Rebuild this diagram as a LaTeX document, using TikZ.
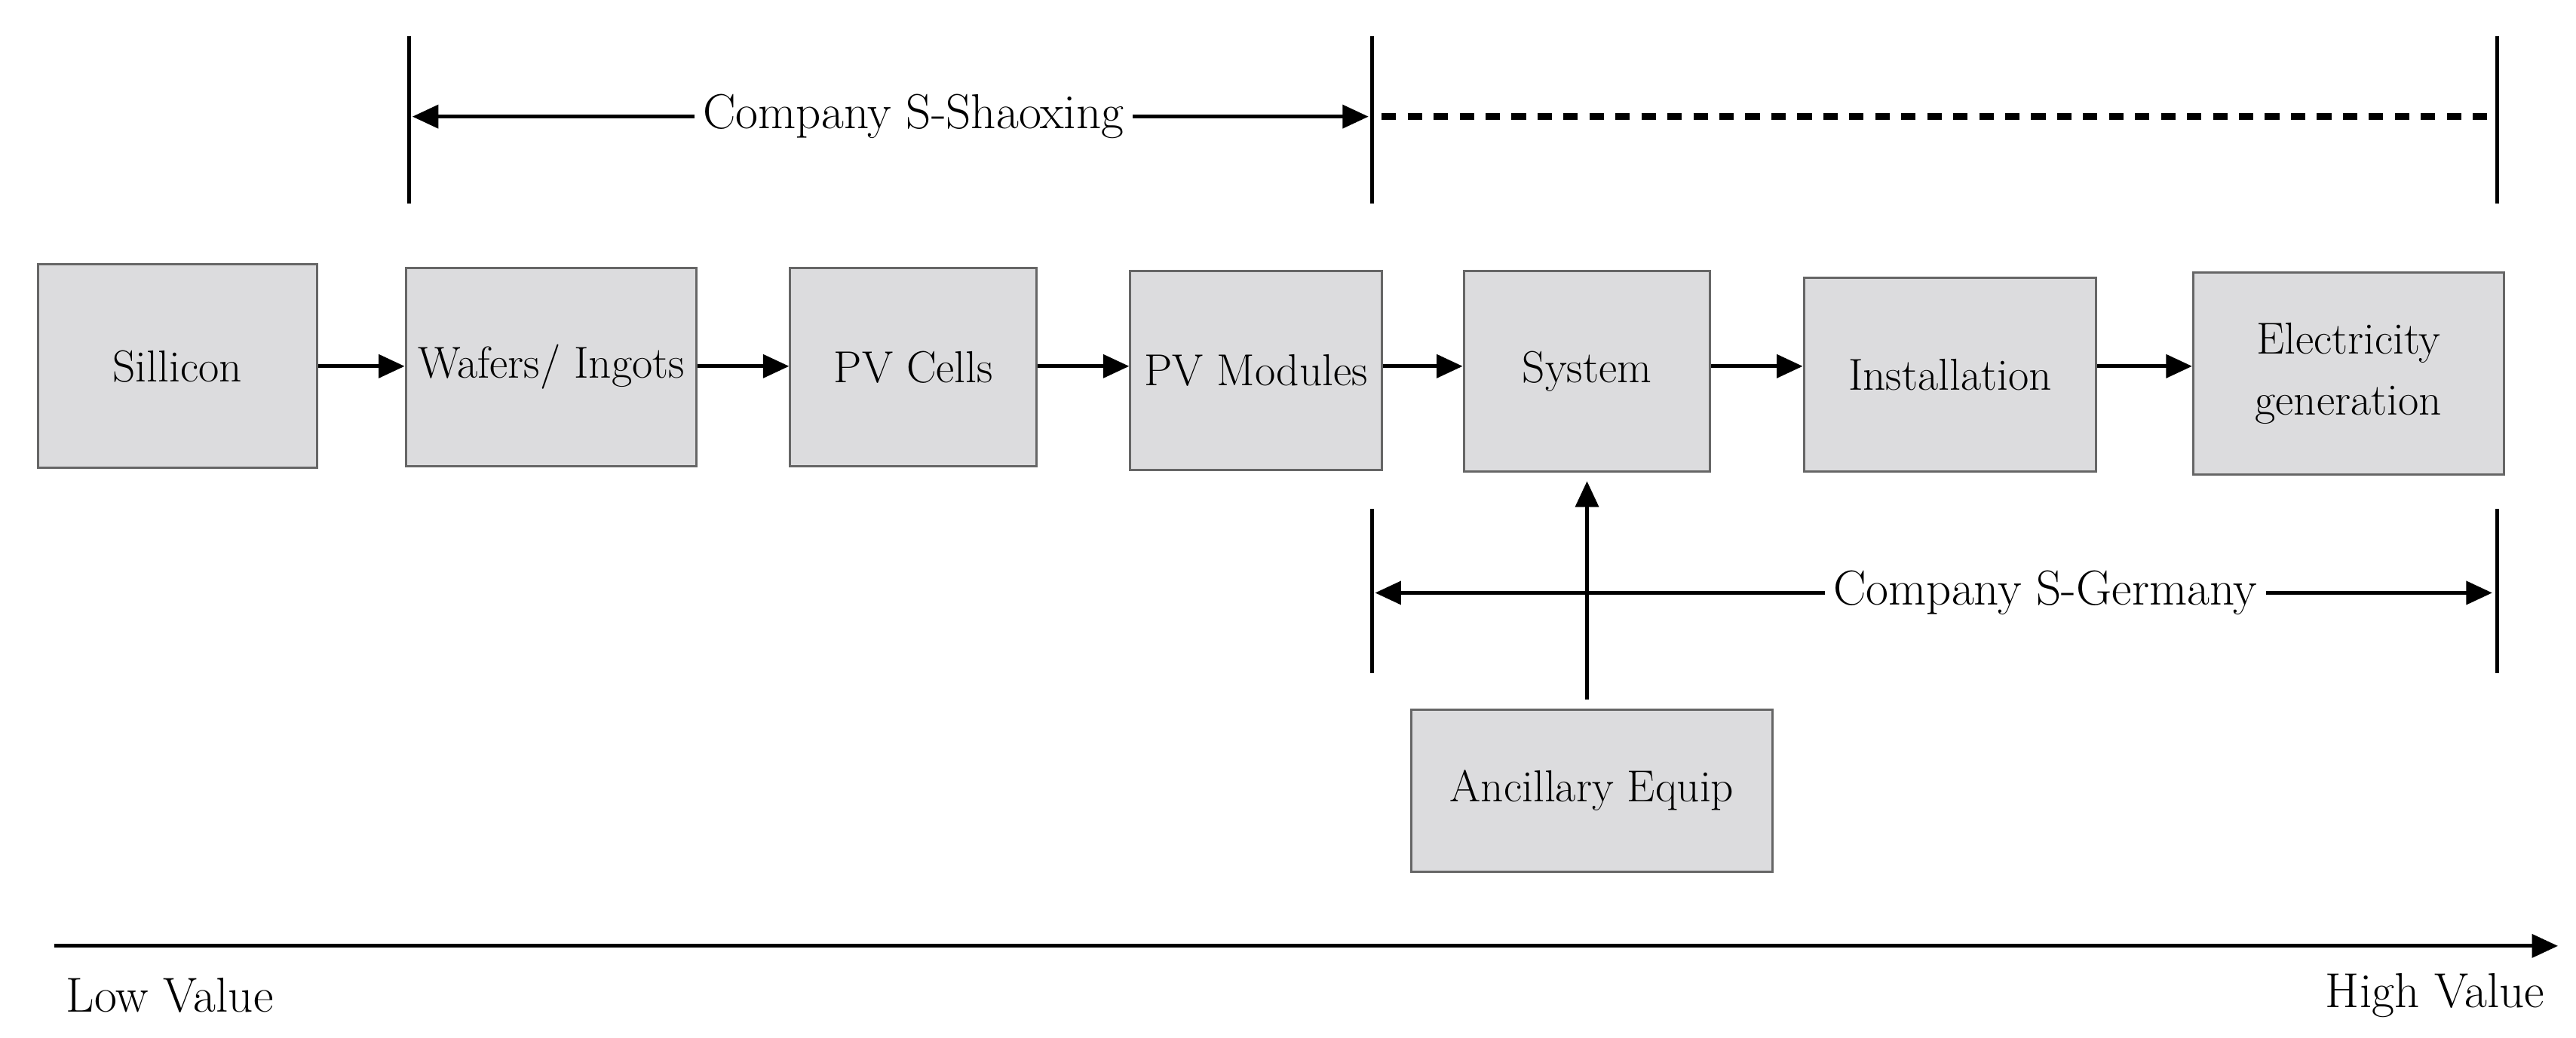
\documentclass[tikz,border=0pt]{standalone}
\usetikzlibrary{arrows.meta}
\begin{document}
\begin{tikzpicture}[x=0.02cm,y=-0.02cm,
  box/.style={draw=gray!80!black,line width=0.8pt,fill=boxfill,inner sep=0pt,font=\fontsize{15.5}{21}\selectfont,align=center},
  arr/.style={-{Triangle[length=9pt,width=8pt]},line width=1.3pt},
  bar/.style={line width=1.3pt},
  lbl/.style={font=\fontsize{17}{20}\selectfont,fill=white,inner sep=3pt}]
\definecolor{boxfill}{HTML}{DCDCDE}
\useasboundingbox (0,0) rectangle (1568,632);
\node[box,minimum width=3.40cm,minimum height=2.48cm] (si) at (108,223) {Sillicon};
\node[box,minimum width=3.54cm,minimum height=2.42cm] (wa) at (335.5,223.5) {Wafers/ Ingots};
\node[box,minimum width=3.00cm,minimum height=2.42cm] (ce) at (556,223.5) {PV Cells};
\node[box,minimum width=3.06cm,minimum height=2.42cm] (mo) at (764.5,225.5) {PV Modules};
\node[box,minimum width=3.00cm,minimum height=2.44cm] (sy) at (966,226) {System};
\node[box,minimum width=3.56cm,minimum height=2.36cm] (in) at (1187,228) {Installation};
\node[box,minimum width=3.78cm,minimum height=2.46cm] (el) at (1429.5,227.5) {Electricity\\generation};
\node[box,minimum width=4.40cm,minimum height=1.98cm] (an) at (969,481.5) {Ancillary Equip};
\draw[arr] (si.east|-0,223) -- (wa.west|-0,223);
\draw[arr] (wa.east|-0,223) -- (ce.west|-0,223);
\draw[arr] (ce.east|-0,223) -- (mo.west|-0,223);
\draw[arr] (mo.east|-0,223) -- (sy.west|-0,223);
\draw[arr] (sy.east|-0,223) -- (in.west|-0,223);
\draw[arr] (in.east|-0,223) -- (el.west|-0,223);
% bars
\coordinate (b1t) at (249,22); \coordinate (b1b) at (249,124);
\coordinate (b2t) at (835,22); \coordinate (b2b) at (835,124);
\coordinate (b3t) at (1520,22); \coordinate (b3b) at (1520,124);
\coordinate (b4t) at (835,310); \coordinate (b4b) at (835,410);
\coordinate (b5t) at (1520,310); \coordinate (b5b) at (1520,410);
\draw[bar] (b1t) -- (b1b); \draw[bar] (b2t) -- (b2b); \draw[bar] (b3t) -- (b3b);
\draw[bar] (b4t) -- (b4b); \draw[bar] (b5t) -- (b5b);
\coordinate (sl) at (251,71); \coordinate (sr) at (833,71);
\draw[arr,{Triangle[length=9pt,width=8pt]}-{Triangle[length=9pt,width=8pt]}] (sl) -- (sr);
\node[lbl] (sh) at (556,71) {Company S-Shaoxing};
\coordinate (dl) at (841,71); \coordinate (dr) at (1518,71);
\draw[line width=2.2pt,dash pattern=on 5pt off 4pt] (dl) -- (dr);
\coordinate (gl) at (837,361); \coordinate (gr) at (1517,361);
\draw[arr,{Triangle[length=9pt,width=8pt]}-{Triangle[length=9pt,width=8pt]}] (gl) -- (gr);
\node[lbl] (ge) at (1245,361) {Company S-Germany};
\draw[arr,shorten <=3pt,shorten >=3pt] (an.north-|966,0) -- (sy.south-|966,0);
\coordinate (vl) at (33,576); \coordinate (vr) at (1557,576);
\draw[arr] (vl) -- (vr);
\node[font=\fontsize{17}{20}\selectfont,anchor=west,inner sep=0pt] (lv) at (40,606) {Low Value};
\node[font=\fontsize{17}{20}\selectfont,anchor=east,inner sep=0pt] (hv) at (1549,606) {High Value};
\end{tikzpicture}
\end{document}
